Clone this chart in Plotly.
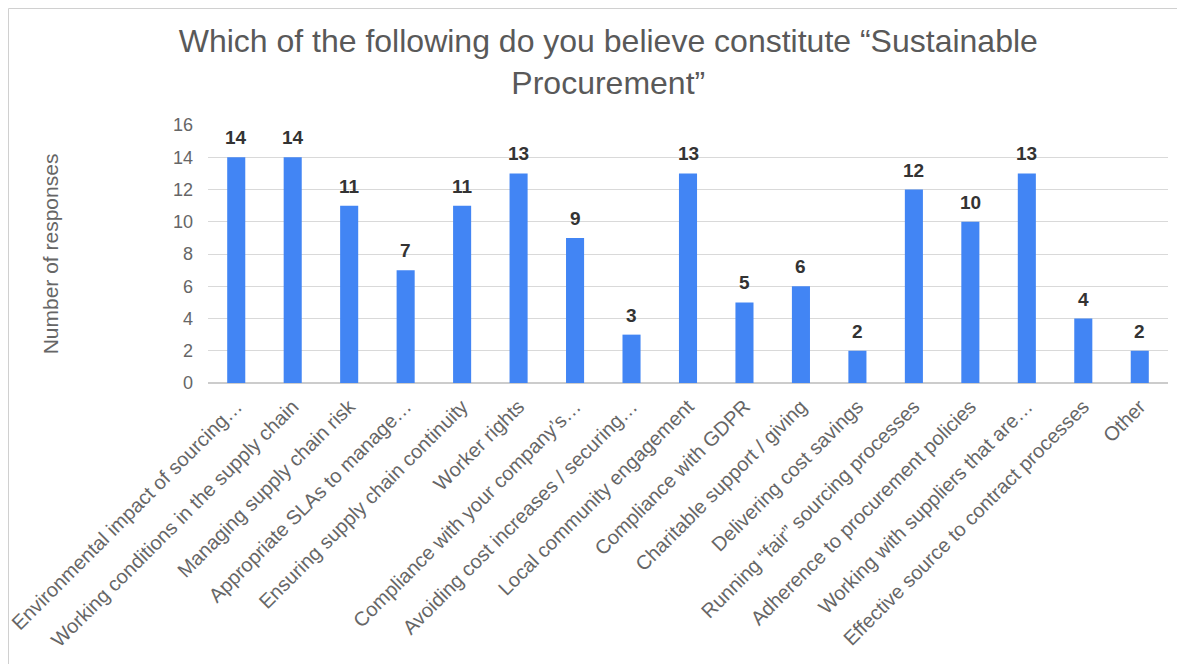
import plotly.graph_objects as go

categories = [
    "Environmental impact of sourcing…",
    "Working conditions in the supply chain",
    "Managing supply chain risk",
    "Appropriate SLAs to manage…",
    "Ensuring supply chain continuity",
    "Worker rights",
    "Compliance with your company’s…",
    "Avoiding cost increases / securing…",
    "Local community engagement",
    "Compliance with GDPR",
    "Charitable support / giving",
    "Delivering cost savings",
    "Running “fair” sourcing processes",
    "Adherence to procurement policies",
    "Working with suppliers that are…",
    "Effective source to contract processes",
    "Other",
]
responses = [14, 14, 11, 7, 11, 13, 9, 3, 13, 5, 6, 2, 12, 10, 13, 4, 2]
y_ticks = [0, 2, 4, 6, 8, 10, 12, 14, 16]

FONT = "Liberation Sans, Arial, sans-serif"

W, H = 1177, 656
L, R, T, B = 200, 17, 117, 281
pw, ph = W - L - R, H - T - B

fig = go.Figure()
fig.add_trace(go.Bar(x=categories, y=responses, marker_color="#4285F4",
                     marker_line_width=0, hoverinfo="x+y"))

for c, v in zip(categories, responses):
    fig.add_annotation(x=c, y=v, text=f"<b>{v}</b>", showarrow=False,
                       yanchor="bottom", yshift=7,
                       font=dict(family=FONT, size=19, color="#333333"))

fig.add_shape(type="rect", xref="paper", yref="paper",
              x0=(0.5 - L) / pw, x1=1.3, y0=-1.5, y1=1 + (T - 0.5) / ph,
              line=dict(color="#d0d0d0", width=1), layer="below")

fig.update_layout(
    width=W, height=H,
    margin=dict(l=L, r=R, t=T, b=B),
    paper_bgcolor="white", plot_bgcolor="white",
    showlegend=False, bargap=0.68,
    title=dict(text="Which of the following do you believe constitute “Sustainable<br>Procurement”",
               x=0.51, xref="container", xanchor="center",
               y=1 - 44 / H, yref="container", yanchor="top",
               font=dict(family=FONT, size=32, color="#595959")),
    font=dict(family=FONT, color="#666666"),
)
fig.update_xaxes(tickangle=-45, tickfont=dict(size=20, color="#666666"),
                 showgrid=False, showline=True, linecolor="#cccccc",
                 ticks="", automargin=False, ticklabelstandoff=3)
fig.update_yaxes(range=[0, 16], tickvals=y_ticks, tickfont=dict(size=18, color="#666666"),
                 gridcolor="#d9d9d9", zeroline=True, zerolinecolor="#cccccc",
                 ticklabelstandoff=14, automargin=False,
                 title=dict(text="Number of responses", standoff=108,
                            font=dict(size=21, color="#666666")))

fig.write_html("out.html")
